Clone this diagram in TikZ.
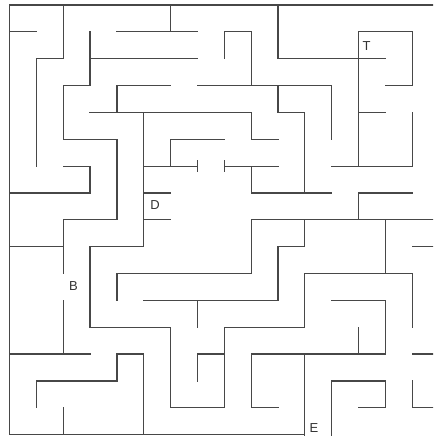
\documentclass[tikz,border=0pt]{standalone}
\usepackage{fontspec}
\setmainfont{Liberation Sans}
\begin{document}
\begin{tikzpicture}[x=26.85pt,y=-26.85pt,
  wall/.style={line width=1.2pt,draw=black!72,line cap=rect},
  tickmark/.style={line width=1.2pt,draw=black!72},
  lab/.style={inner sep=0pt,font=\fontsize{13}{13}\selectfont,text=black!80}]
\useasboundingbox[fill=white] (-0.3538,-0.1862) rectangle (15.773,16.052);
\clip (-0.3538,-0.1862) rectangle (15.773,16.052);
% borders
\draw[wall] (16,0) -- (0,0) -- (0,16) -- (11,16);
% walls
\draw[wall] (2,0)--(2,2)--(1,2)--(1,6);
\draw[wall] (0,1)--(1,1);
\draw[wall] (6,0)--(6,1);
\draw[wall] (4,1)--(7,1);
\draw[wall] (3,1)--(3,3)--(2,3)--(2,5)--(4,5)--(4,8);
\draw[wall] (3,2)--(7,2);
\draw[wall] (4,4)--(4,3)--(6,3);
\draw[wall] (7,3)--(12,3)--(12,5);
\draw[wall] (3,4)--(9,4);
\draw[wall] (5,4)--(5,9)--(3,9)--(3,12)--(6,12)--(6,15)--(8,15)--(8,12)--(11,12)--(11,10)--(15,10)--(15,12);
\draw[wall] (6,6)--(6,5)--(8,5);
\draw[wall] (5,6)--(7,6);
\draw[tickmark] (7,5.78)--(7,6.22);
\draw[wall] (2,6)--(3,6)--(3,7);
\draw[wall] (0,7)--(3,7);
\draw[wall] (5,7)--(6,7);
\draw[wall] (2,8)--(4,8);
\draw[wall] (5,8)--(6,8);
\draw[wall] (10,0)--(10,2)--(14,2);
\draw[wall] (13,6)--(13,1)--(15,1)--(15,3)--(14,3);
\draw[wall] (8,2)--(8,1)--(9,1)--(9,3);
\draw[wall] (10,3)--(10,4)--(11,4)--(11,7);
\draw[wall] (9,6)--(9,7)--(12,7);
\draw[wall] (8,6)--(10,6);
\draw[tickmark] (8,5.78)--(8,6.22);
\draw[wall] (9,4)--(9,5)--(10,5);
\draw[wall] (13,4)--(14,4);
\draw[wall] (15,4)--(15,6)--(12,6);
\draw[wall] (13,8)--(13,7)--(15,7);
\draw[wall] (16,8)--(9,8)--(9,10)--(4,10)--(4,11);
\draw[wall] (11,8)--(11,9)--(10,9)--(10,11)--(5,11);
\draw[wall] (2,8)--(2,10);
\draw[wall] (2,11)--(2,13);
\draw[wall] (0,13)--(3,13);
\draw[wall] (0,9)--(2,9);
\draw[wall] (7,11)--(7,12);
\draw[wall] (5,16)--(5,13)--(4,13)--(4,14)--(1,14)--(1,15);
\draw[wall] (2,15)--(2,16);
\draw[wall] (7,14)--(7,13)--(8,13);
\draw[wall] (14,8)--(14,10);
\draw[wall] (15,9)--(16,9);
\draw[wall] (12,11)--(14,11)--(14,13)--(9,13)--(9,15)--(10,15);
\draw[wall] (13,12)--(13,13);
\draw[wall] (11,13)--(11,16.2);
\draw[wall] (12,16.2)--(12,14)--(14,14)--(14,15)--(13,15);
\draw[wall] (15,13)--(16,13);
\draw[wall] (15,14)--(15,15)--(16,15);
% labels
\node[lab] (t) at (13.30,1.52) {T};
\node[lab] (d) at (5.42,7.45) {D};
\node[lab] (b) at (2.38,10.47) {B};
\node[lab] (e) at (11.34,15.75) {E};
\end{tikzpicture}
\end{document}
